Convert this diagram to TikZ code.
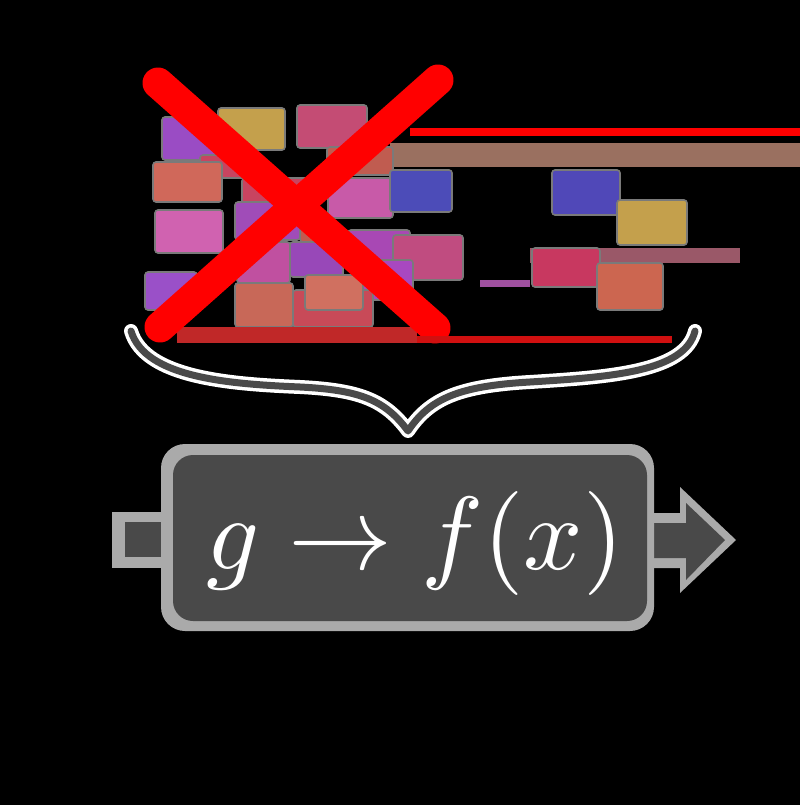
\documentclass[tikz,border=0pt]{standalone}
\definecolor{cPurple}{HTML}{9A4CC4}
\definecolor{cGold}{HTML}{C4A04C}
\definecolor{cRose}{HTML}{C44C74}
\definecolor{cBrown}{HTML}{C05C50}
\definecolor{cSalmon}{HTML}{D0685A}
\definecolor{cDkRed}{HTML}{C84460}
\definecolor{cMagenta}{HTML}{C85AA8}
\definecolor{cBlue}{HTML}{4C4CB8}
\definecolor{cBlueR}{HTML}{5048B8}
\definecolor{cPink}{HTML}{D062B0}
\definecolor{cViolet}{HTML}{A04CB8}
\definecolor{cViolet2}{HTML}{A848B4}
\definecolor{cViolet3}{HTML}{9848B8}
\definecolor{cViolet4}{HTML}{9A50C8}
\definecolor{cViolet5}{HTML}{A848C0}
\definecolor{cPlum}{HTML}{C04C80}
\definecolor{cPink2}{HTML}{C050A0}
\definecolor{cOrange}{HTML}{C86858}
\definecolor{cOrange2}{HTML}{D07060}
\definecolor{cOrange3}{HTML}{CC6650}
\definecolor{cRed2}{HTML}{C84A58}
\definecolor{cRedPink}{HTML}{C83860}
\definecolor{cMauve}{HTML}{9A5868}
\definecolor{cLilac}{HTML}{A050A0}
\definecolor{cBand}{HTML}{9A7060}
\definecolor{cStrip}{HTML}{C02828}
\definecolor{cStrip2}{HTML}{D01010}
\definecolor{cEdge}{HTML}{7A7A7A}
\definecolor{boxDark}{HTML}{494949}
\definecolor{boxLight}{HTML}{AAAAAA}
\definecolor{braceDark}{HTML}{4A4A4A}
\tikzset{
  card/.style={fill=#1, draw=cEdge, line width=1.6pt, rounded corners=3pt},
  band/.style={fill=#1, draw=none},
  crossline/.style={draw=red, line width=31pt, line cap=round},
  braceout/.style={draw=white, line width=14pt, line cap=round, line join=round},
  bracein/.style={draw=braceDark, line width=7pt, line cap=round, line join=round},
  lightshape/.style={fill=boxLight, draw=none},
  darkshape/.style={fill=boxDark, draw=none},
}
\begin{document}
\begin{tikzpicture}[x=1pt,y=-1pt]
\fill[black] (0,0) rectangle (800,805);
\useasboundingbox (0,0) rectangle (800,805);
% stray bands
\fill[band=red] (410,128) rectangle (800,136);
\fill[band=cBand] (390,143) rectangle (800,167);
\fill[band=cMauve] (530,248) rectangle (740,263);
\fill[band=cLilac] (480,280) rectangle (530,287);
% left cluster of cards
\path[card=cPurple] (162,117) rectangle (232,160);
\path[card=cGold] (218,108) rectangle (285,150);
\path[card=cRose] (297,105) rectangle (367,148);
\path[card=cBrown] (327,147) rectangle (393,175);
\path[card=cDkRed] (200,155) rectangle (245,178);
\path[card=cSalmon] (153,162) rectangle (222,202);
\path[card=cDkRed] (242,178) rectangle (310,205);
\path[card=cMagenta] (328,178) rectangle (393,218);
\path[card=cBlue] (390,170) rectangle (452,212);
\path[card=cPink] (155,210) rectangle (223,253);
\path[card=cViolet] (235,202) rectangle (300,240);
\path[card=cBrown] (300,225) rectangle (330,242);
\path[card=cViolet2] (348,230) rectangle (410,262);
\path[card=cPlum] (393,235) rectangle (463,280);
\path[card=cPink2] (237,242) rectangle (290,283);
\path[card=cViolet3] (290,242) rectangle (343,277);
\path[card=cViolet4] (145,272) rectangle (197,310);
\path[card=cViolet5] (353,260) rectangle (413,300);
\path[card=cRed2] (293,290) rectangle (373,327);
\path[card=cOrange] (235,283) rectangle (293,327);
\path[card=cOrange2] (305,275) rectangle (363,310);
\fill[band=cStrip] (177,327) rectangle (417,343);
% right cluster of cards
\path[card=cBlueR] (552,170) rectangle (620,215);
\path[card=cGold] (617,200) rectangle (687,245);
\path[card=cRedPink] (532,248) rectangle (600,287);
\path[card=cOrange3] (597,263) rectangle (663,310);
% red cross
\coordinate (xa) at (158,83);
\coordinate (xb) at (435,328);
\coordinate (xc) at (438,80);
\coordinate (xd) at (160,327);
\draw[crossline] (xa) -- (xb);
\draw[crossline] (xc) -- (xd);
\fill[band=cStrip2] (417,336) rectangle (672,343);
% brace
\coordinate (bl) at (131,331);
\coordinate (bt) at (408,431);
\coordinate (br) at (695,331);
\foreach \s in {braceout,bracein}{
  \draw[\s] (bl) .. controls (145,378) and (230,384) .. (300,387)
        .. controls (360,390) and (385,400) .. (bt)
        .. controls (430,398) and (460,386) .. (530,382)
        .. controls (610,377) and (685,372) .. (br);
}
% input port
\fill[lightshape] (112,512) rectangle (172,568);
\fill[darkshape] (125,522) rectangle (172,557);
% output arrow
\fill[lightshape] (640,513) -- (680,513) -- (680,487) -- (736,540) -- (680,593) -- (680,568) -- (640,568) -- cycle;
\fill[darkshape] (640,523) -- (686,523) -- (686,503) -- (725,540) -- (686,580) -- (686,558) -- (640,558) -- cycle;
% function box
\fill[lightshape, rounded corners=24pt] (161,444) rectangle (654,631);
\fill[darkshape, rounded corners=20pt] (173,455) rectangle (647,621);
\node[anchor=base, text=white, inner sep=0pt, scale=10.4] (fx) at (415,569) {$g\to f(x)$};
\end{tikzpicture}
\end{document}
